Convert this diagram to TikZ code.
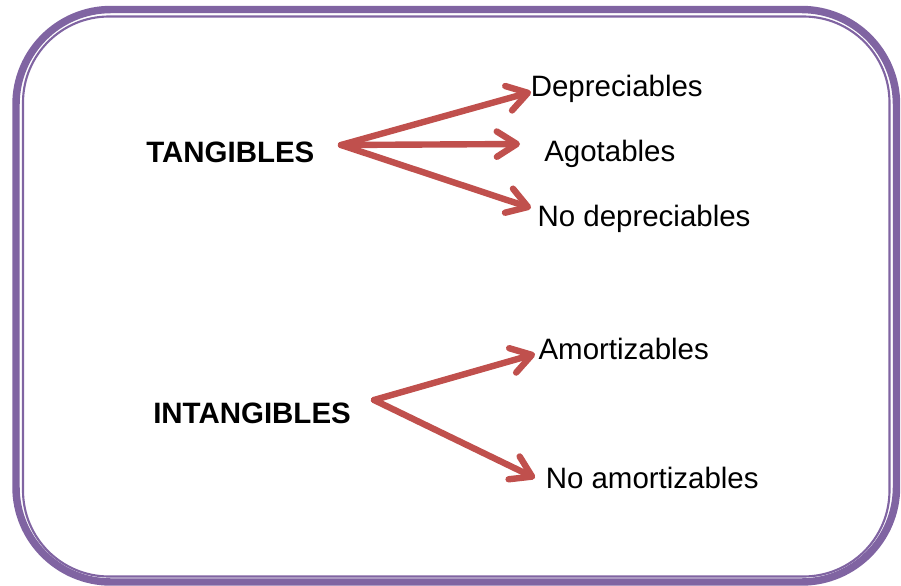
\documentclass[tikz,border=0pt]{standalone}
\usepackage{fontspec}
\setmainfont{Liberation Sans}
\usetikzlibrary{arrows.meta}
\definecolor{framepurple}{RGB}{128,100,162}
\definecolor{arrowred}{RGB}{192,80,77}
\begin{document}
\begin{tikzpicture}[x=0.75pt,y=-0.75pt,
  label/.style={anchor=base west,inner sep=0pt,font=\fontsize{22.1}{26}\selectfont},
  head/.style={anchor=base west,inner sep=0pt,font=\fontsize{22.1}{26}\selectfont\bfseries},
  branch/.style={draw=arrowred,line width=4.8pt,line cap=round,line join=round,
    -{Straight Barb[length=15pt,width=19pt,line cap=round,line join=round]}},
  outerframe/.style={draw=framepurple,line width=5.6pt,rounded corners=95*0.75pt},
  innerframe/.style={draw=framepurple,line width=1.6pt,rounded corners=86*0.75pt}]
\useasboundingbox (0,0) rectangle (901,586);
% double purple frame
\draw[outerframe] (16,9.5) rectangle (896.5,582);
\draw[innerframe] (23,16.5) rectangle (889.5,576.5);
% left-hand headings
\node[head] (tang) at (146,162.7) {TANGIBLES};
\node[head] (intang) at (153,423.3) {INTANGIBLES};
% right-hand categories
\node[label] (dep) at (530.5,96.7) {Depreciables};
\node[label] (ago) at (544,161.7) {Agotables};
\node[label] (nodep) at (537.3,226.7) {No depreciables};
\node[label] (amo) at (538.3,359) {Amortizables};
\node[label] (noamo) at (545.5,488.3) {No amortizables};
% arrow hubs and tips
\coordinate (hubT) at (341,145);
\coordinate (hubI) at (374,400);
\coordinate (tipDep) at (531,92);
\coordinate (tipAgo) at (520,144);
\coordinate (tipNodep) at (531,208);
\coordinate (tipAmo) at (535,354);
\coordinate (tipNoamo) at (535,478);
\draw[branch] (hubT) -- (tipDep);
\draw[branch] (hubT) -- (tipAgo);
\draw[branch] (hubT) -- (tipNodep);
\draw[branch] (hubI) -- (tipAmo);
\draw[branch] (hubI) -- (tipNoamo);
\end{tikzpicture}
\end{document}
